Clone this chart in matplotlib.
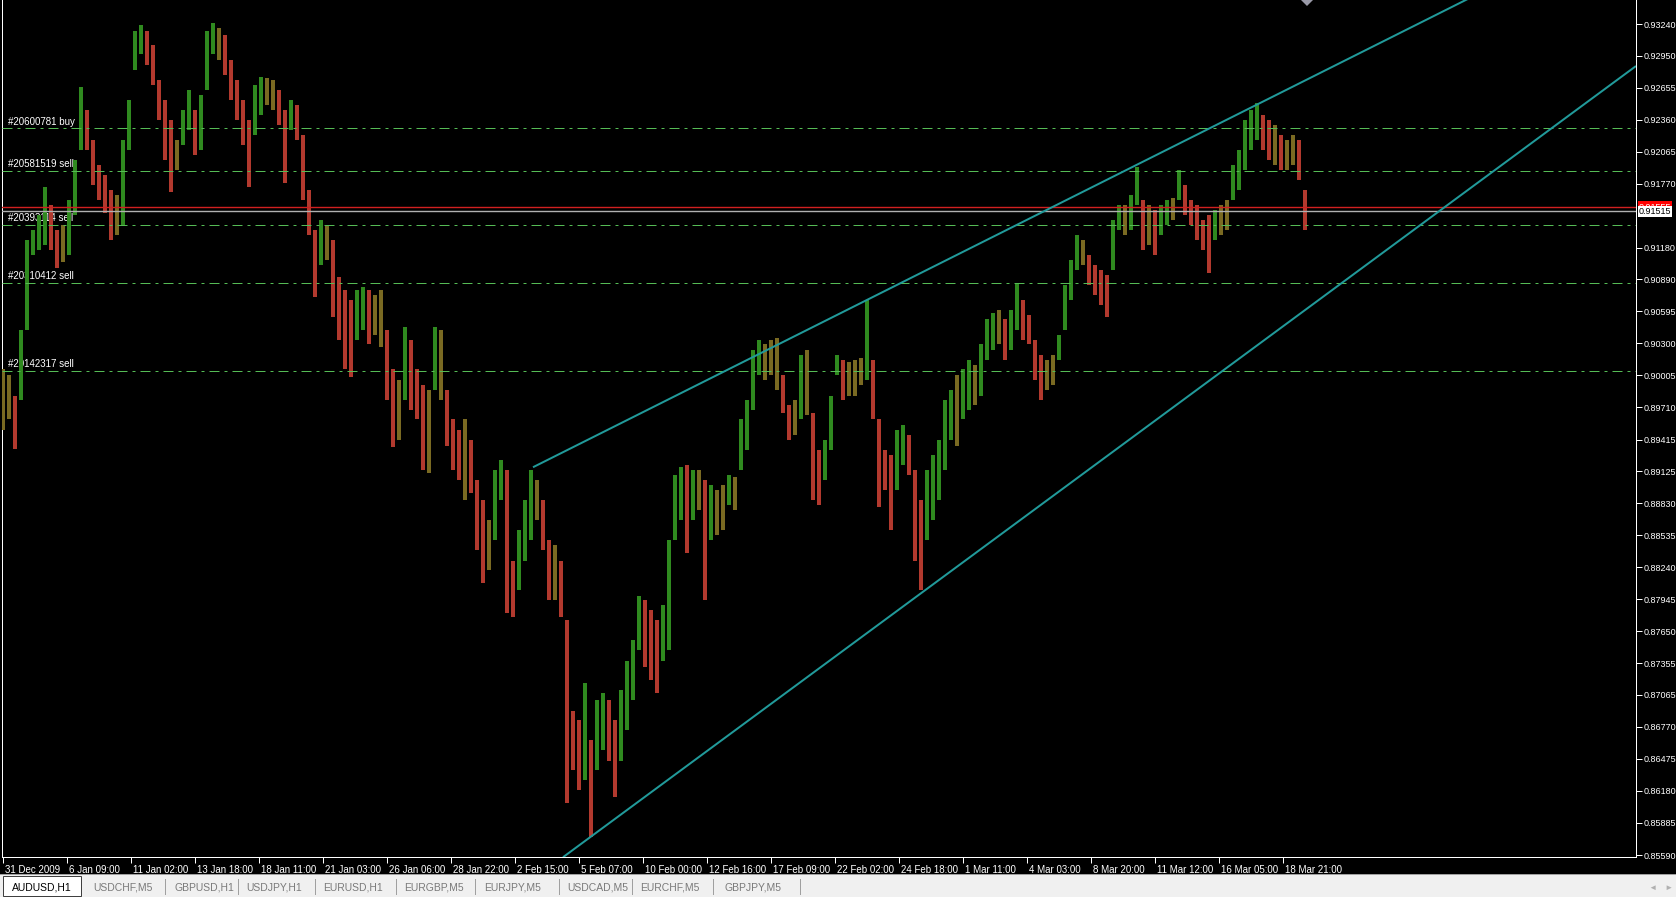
import matplotlib
matplotlib.use("Agg")
import matplotlib.pyplot as plt
import matplotlib.transforms as mtransforms
import numpy as np
from matplotlib.patches import Rectangle
from matplotlib.lines import Line2D

plt.rcParams["font.family"] = ["Liberation Sans", "DejaVu Sans"]

# AUDUSD H1 bars, one high/low sample every 6 hourly bars
bar_step = 6
highs = [
    0.9006, 0.9001, 0.8982, 0.9042, 0.9125, 0.9134, 0.9148, 0.9174, 0.9157, 0.9134,
    0.9139, 0.9162, 0.9199, 0.9266, 0.9245, 0.9217, 0.9194, 0.9185, 0.9171, 0.9167,
    0.9217, 0.9254, 0.9318, 0.9323, 0.9318, 0.9305, 0.9272, 0.9254, 0.9236, 0.9217,
    0.9245, 0.9263, 0.9245, 0.9259, 0.9318, 0.9325, 0.9320, 0.9314, 0.9291, 0.9272,
    0.9254, 0.9236, 0.9268, 0.9275, 0.9274, 0.9272, 0.9263, 0.9245, 0.9254, 0.9249,
    0.9222, 0.9171, 0.9134, 0.9144, 0.9139, 0.9125, 0.9091, 0.9079, 0.9070, 0.9079,
    0.9082, 0.9079, 0.9075, 0.9079, 0.9042, 0.9006, 0.8996, 0.9045, 0.9033, 0.9006,
    0.8992, 0.8987, 0.9045, 0.9042, 0.8987, 0.8960, 0.8950, 0.8960, 0.8941, 0.8904,
    0.8886, 0.8867, 0.8913, 0.8923, 0.8913, 0.8830, 0.8858, 0.8886, 0.8913, 0.8904,
    0.8886, 0.8849, 0.8844, 0.8830, 0.8775, 0.8692, 0.8683, 0.8717, 0.8665, 0.8702,
    0.8708, 0.8702, 0.8683, 0.8711, 0.8738, 0.8757, 0.8797, 0.8794, 0.8785, 0.8775,
    0.8789, 0.8849, 0.8909, 0.8916, 0.8918, 0.8913, 0.8913, 0.8904, 0.8900, 0.8895,
    0.8900, 0.8909, 0.8907, 0.8960, 0.8978, 0.9024, 0.9033, 0.9029, 0.9033, 0.9035,
    0.9001, 0.8973, 0.8978, 0.9019, 0.9024, 0.8966, 0.8932, 0.8941, 0.8982, 0.9019,
    0.9015, 0.9013, 0.9015, 0.9017, 0.9070, 0.9015, 0.8960, 0.8932, 0.8927, 0.8950,
    0.8955, 0.8946, 0.8913, 0.8886, 0.8913, 0.8927, 0.8941, 0.8978, 0.8987, 0.9001,
    0.9006, 0.9015, 0.9010, 0.9029, 0.9052, 0.9058, 0.9061, 0.9052, 0.9061, 0.9086,
    0.9070, 0.9056, 0.9033, 0.9019, 0.9015, 0.9019, 0.9038, 0.9084, 0.9107, 0.9130,
    0.9125, 0.9111, 0.9102, 0.9098, 0.9093, 0.9144, 0.9157, 0.9157, 0.9167, 0.9192,
    0.9162, 0.9157, 0.9153, 0.9157, 0.9162, 0.9164, 0.9190, 0.9176, 0.9162, 0.9157,
    0.9144, 0.9148, 0.9153, 0.9157, 0.9162, 0.9194, 0.9208, 0.9236, 0.9245, 0.9251,
    0.9240, 0.9236, 0.9231, 0.9222, 0.9217, 0.9222, 0.9217, 0.9171,
]
lows = [
    0.8950, 0.8960, 0.8933, 0.8978, 0.9042, 0.9111, 0.9116, 0.9121, 0.9116, 0.9099,
    0.9105, 0.9111, 0.9148, 0.9208, 0.9208, 0.9176, 0.9162, 0.9150, 0.9125, 0.9130,
    0.9139, 0.9208, 0.9282, 0.9296, 0.9286, 0.9268, 0.9236, 0.9199, 0.9169, 0.9190,
    0.9213, 0.9226, 0.9203, 0.9208, 0.9263, 0.9296, 0.9291, 0.9277, 0.9254, 0.9236,
    0.9213, 0.9174, 0.9222, 0.9240, 0.9249, 0.9245, 0.9231, 0.9178, 0.9226, 0.9217,
    0.9162, 0.9130, 0.9073, 0.9102, 0.9107, 0.9054, 0.9033, 0.9006, 0.8999, 0.9033,
    0.9042, 0.9029, 0.9038, 0.9027, 0.8978, 0.8935, 0.8941, 0.8978, 0.8969, 0.8960,
    0.8913, 0.8911, 0.8987, 0.8978, 0.8936, 0.8913, 0.8904, 0.8886, 0.8892, 0.8840,
    0.8809, 0.8821, 0.8849, 0.8886, 0.8782, 0.8778, 0.8803, 0.8830, 0.8849, 0.8867,
    0.8840, 0.8794, 0.8794, 0.8778, 0.8607, 0.8637, 0.8619, 0.8628, 0.8576, 0.8637,
    0.8656, 0.8646, 0.8612, 0.8646, 0.8674, 0.8702, 0.8748, 0.8732, 0.8720, 0.8708,
    0.8738, 0.8748, 0.8849, 0.8867, 0.8837, 0.8867, 0.8877, 0.8794, 0.8849, 0.8854,
    0.8858, 0.8881, 0.8877, 0.8913, 0.8932, 0.8969, 0.9001, 0.8996, 0.9001, 0.8987,
    0.8966, 0.8941, 0.8946, 0.8960, 0.8964, 0.8886, 0.8881, 0.8904, 0.8932, 0.9001,
    0.8978, 0.8982, 0.8982, 0.8992, 0.8996, 0.8960, 0.8879, 0.8895, 0.8858, 0.8895,
    0.8918, 0.8909, 0.8830, 0.8803, 0.8849, 0.8867, 0.8886, 0.8913, 0.8941, 0.8936,
    0.8960, 0.8969, 0.8973, 0.8982, 0.9015, 0.9024, 0.9029, 0.9015, 0.9024, 0.9042,
    0.9033, 0.9029, 0.8996, 0.8978, 0.8987, 0.8992, 0.9015, 0.9042, 0.9070, 0.9098,
    0.9102, 0.9084, 0.9075, 0.9065, 0.9054, 0.9098, 0.9134, 0.9130, 0.9134, 0.9157,
    0.9116, 0.9121, 0.9111, 0.9130, 0.9139, 0.9144, 0.9162, 0.9148, 0.9139, 0.9125,
    0.9116, 0.9095, 0.9125, 0.9130, 0.9134, 0.9162, 0.9171, 0.9190, 0.9208, 0.9217,
    0.9208, 0.9199, 0.9194, 0.9190, 0.9190, 0.9194, 0.9180, 0.9134,
]

time_labels = [
    "31 Dec 2009", "6 Jan 09:00", "11 Jan 02:00", "13 Jan 18:00", "18 Jan 11:00",
    "21 Jan 03:00", "26 Jan 06:00", "28 Jan 22:00", "2 Feb 15:00", "5 Feb 07:00",
    "10 Feb 00:00", "12 Feb 16:00", "17 Feb 09:00", "22 Feb 02:00", "24 Feb 18:00",
    "1 Mar 11:00", "4 Mar 03:00", "8 Mar 20:00", "11 Mar 12:00", "16 Mar 05:00",
    "18 Mar 21:00",
]
bars_per_label = 64

price_ticks = [
    0.93240, 0.92950, 0.92655, 0.92360, 0.92065, 0.91770, 0.91180, 0.90890,
    0.90595, 0.90300, 0.90005, 0.89710, 0.89415, 0.89125, 0.88830, 0.88535,
    0.88240, 0.87945, 0.87650, 0.87355, 0.87065, 0.86770, 0.86475, 0.86180,
    0.85885, 0.85590,
]

order_names = ["#20600781 buy", "#20581519 sell", "#20393114 sell",
               "#20310412 sell", "#20142317 sell"]
order_prices = [0.9228, 0.9189, 0.9139, 0.9086, 0.9005]

ask_price = 0.91555
bid_price = 0.91515

# channel lines as (bar, price) anchors; both are rays to the right
upper_channel = [(530, 0.8916), (1237, 0.9242)]
lower_channel = [(560, 0.8557), (1634, 0.9286)]

tabs = ["AUDUSD,H1", "USDCHF,M5", "GBPUSD,H1", "USDJPY,H1", "EURUSD,H1",
        "EURGBP,M5", "EURJPY,M5", "USDCAD,M5", "EURCHF,M5", "GBPJPY,M5"]

# ---------------------------------------------------------------------------
W, H = 1676, 897
PX = 0.72  # one pixel in points at dpi 100
GREEN, RED, OLIVE = "#2f8a1f", "#b2392e", "#7a6a22"
TEAL = "#219a9a"
LEVEL = "#55bb55"

fig = plt.figure(figsize=(W / 100, H / 100), dpi=100, facecolor="black")
ax = fig.add_axes([2 / W, (H - 857) / H, (1636 - 2) / W, 857 / H])
ax.set_facecolor("black")
ax.set_xlim(-1, 1633)
ax.set_ylim(0.85572, 0.93461)

# price bars
bars = np.arange(len(highs)) * bar_step
hi = np.array(highs)
lo = np.array(lows)
mid = (hi + lo) / 2
step = np.diff(mid, prepend=mid[0])
colors = np.where(step > 0.0006, GREEN, np.where(step < -0.0006, RED, OLIVE))
ax.vlines(bars, lo, hi, colors=colors, linewidth=4 * PX, zorder=3)

# order levels
for name, p in zip(order_names, order_prices):
    ax.axhline(p, color=LEVEL, linewidth=PX, linestyle=(0, (10, 5, 3, 5)), zorder=4)
    ax.annotate(name, xy=(5, p), xytext=(0, 1.2), textcoords="offset points",
                color="white", fontsize=7, ha="left", va="bottom", zorder=2)

# ask / bid lines
ax.axhline(ask_price, color="#d02020", linewidth=1.4 * PX, zorder=5)
ax.axhline(bid_price, color="#b0b0b0", linewidth=1.4 * PX, zorder=5)

# channel rays
x_end = ax.get_xlim()[1]
for (x0, y0), (x1, y1) in (upper_channel, lower_channel):
    slope = (y1 - y0) / (x1 - x0)
    ax.plot([x0, x_end], [y0, y0 + slope * (x_end - x0)], color=TEAL,
            linewidth=2 * PX, solid_capstyle="butt", zorder=6)

# chart-shift marker at the top
ax.plot([1304], [ax.get_ylim()[1]], marker="D", ms=6, color="#9a9aa8",
        markeredgewidth=0, zorder=7)

# axes styling
for side in ("left", "bottom", "right"):
    ax.spines[side].set_color("white")
    ax.spines[side].set_linewidth(PX)
ax.spines["top"].set_visible(False)

ax.set_xticks(np.arange(len(time_labels)) * bars_per_label)
ax.set_xticklabels(time_labels, ha="left")
ax.tick_params(axis="x", colors="white", length=4, width=PX, direction="out",
               pad=1.5, labelsize=7)
shift = mtransforms.ScaledTranslation(2 / 100, 0, fig.dpi_scale_trans)
for lbl in ax.get_xticklabels():
    lbl.set_transform(lbl.get_transform() + shift)

ax.yaxis.tick_right()
ax.set_yticks(price_ticks)
ax.set_yticklabels([f"{v:.5f}" for v in price_ticks])
ax.tick_params(axis="y", colors="white", length=4, width=PX, direction="out",
               pad=1.5, labelsize=6.5)

# ask / bid price boxes on the scale
ax.annotate(f"{ask_price:.5f}", xy=(1.0, ask_price), xycoords=("axes fraction", "data"),
            xytext=(2.0, 0), textcoords="offset points", ha="left", va="center",
            fontsize=6.5, color="white", annotation_clip=False,
            bbox=dict(boxstyle="square,pad=0.12", fc="#ff0000", ec="none"))
ax.annotate(f"{bid_price:.5f}", xy=(1.0, bid_price), xycoords=("axes fraction", "data"),
            xytext=(2.0, 0), textcoords="offset points", ha="left", va="center",
            fontsize=6.5, color="black", annotation_clip=False,
            bbox=dict(boxstyle="square,pad=0.12", fc="white", ec="none"))

# ---------------------------------------------------------------------------
# symbol tab strip at the bottom
def fx(px):
    return px / W


def fy(py):
    return 1 - py / H


fig.add_artist(Rectangle((0, 0), 1, fy(874), transform=fig.transFigure,
                         facecolor="#f0f0f0", edgecolor="none"))
fig.add_artist(Line2D([0, 1], [fy(874), fy(874)], transform=fig.transFigure,
                      color="#a0a0a0", linewidth=PX))
fig.add_artist(Rectangle((fx(3), fy(896)), fx(81) - fx(3), fy(876) - fy(896),
                         transform=fig.transFigure, facecolor="white",
                         edgecolor="#404040", linewidth=PX))

tab_text_x = [12, 93, 174, 246, 323, 404, 484, 567, 640, 724]
tab_sep_x = [165, 238, 315, 396, 475, 559, 632, 713, 800]
for i, (name, tx) in enumerate(zip(tabs, tab_text_x)):
    fig.text(fx(tx), fy(887), name, fontsize=7.5, ha="left", va="center",
             color="black" if i == 0 else "#7a7a7a")
for sx in tab_sep_x:
    fig.add_artist(Line2D([fx(sx), fx(sx)], [fy(879), fy(894)],
                          transform=fig.transFigure, color="#a0a0a0", linewidth=PX))
fig.text(fx(1652), fy(888), "\u25c4", fontsize=6, ha="center", va="center", color="#b0b0b0")
fig.text(fx(1668), fy(888), "\u25ba", fontsize=6, ha="center", va="center", color="#b0b0b0")

fig.savefig("out.png", dpi=100, facecolor="black")
